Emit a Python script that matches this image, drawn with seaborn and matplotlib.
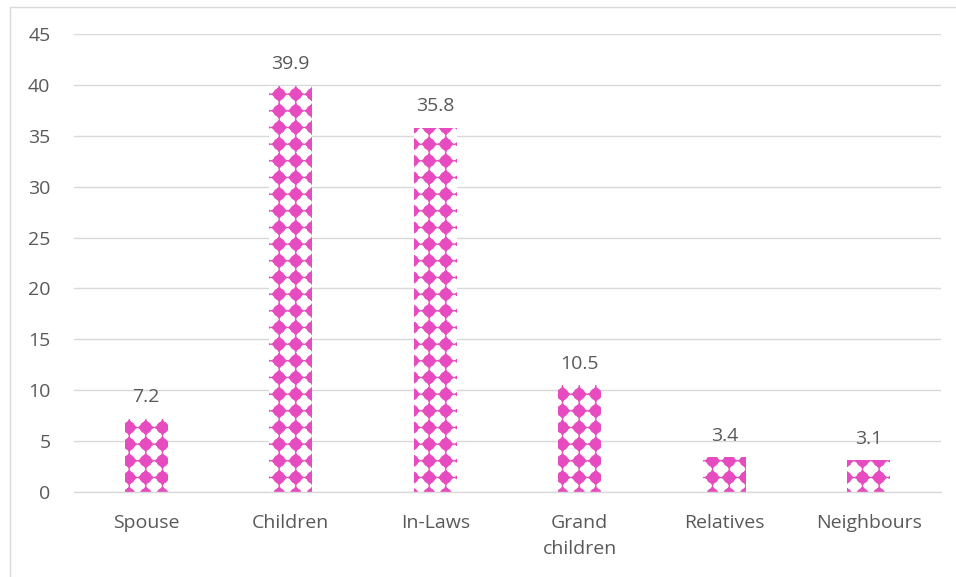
import numpy as np
import matplotlib
matplotlib.use("Agg")
import matplotlib.pyplot as plt
import matplotlib.hatch as mhatch
from matplotlib.path import Path
from matplotlib.patches import Rectangle
import seaborn as sns

categories = ["Spouse", "Children", "In-Laws", "Grand\nchildren", "Relatives", "Neighbours"]
values = [7.2, 39.9, 35.8, 10.5, 3.4, 3.1]
value_labels = ["7.2", "39.9", "35.8", "10.5", "3.4", "3.1"]
y_ticks = [0, 5, 10, 15, 20, 25, 30, 35, 40, 45]

PINK = "#e64bbf"
TEXT = "#595959"
GRID = "#d9d9d9"


# Custom square-grid hatch of filled "diamond dots" (replaces the '*' star hatch)
def _dot_shape():
    circ = Path.unit_circle()
    cv = circ.vertices * 0.34
    cc = circ.codes
    pts = []
    n = 4
    for i in range(2 * n):
        ang = np.pi / 2 * (i // 2) + (np.pi / 4 if i % 2 else 0.0)
        r = 0.49 if i % 2 == 0 else 0.24
        pts.append((r * np.cos(ang), r * np.sin(ang)))
    pts.append(pts[0])
    sv = np.array(pts)
    sc = np.full(len(sv), Path.LINETO, dtype=Path.code_type)
    sc[0] = Path.MOVETO
    sc[-1] = Path.CLOSEPOLY
    return np.vstack([cv, sv]), np.concatenate([cc, sc])


class DiamondDots(mhatch.HatchPatternBase):
    dx = -0.25
    dy = 0.35

    def __init__(self, hatch, density):
        self.num_rows = hatch.count('*') * density
        self.shape_vertices, self.shape_codes = _dot_shape()
        n = self.num_rows
        self.num_shapes = (n + 3) * (n + 3) if n else 0
        self.num_vertices = self.num_shapes * len(self.shape_vertices)

    def set_vertices_and_codes(self, vertices, codes):
        n = self.num_rows
        offset = 1.0 / n
        sv = self.shape_vertices * offset
        nv = len(sv)
        cur = 0
        grid = (np.arange(-1, n + 2)) * offset
        for r in grid:
            for c in grid:
                vertices[cur:cur + nv] = sv + (c + self.dx * offset, r + self.dy * offset)
                codes[cur:cur + nv] = self.shape_codes
                cur += nv


mhatch._hatch_types[:] = [t for t in mhatch._hatch_types if t is not mhatch.Stars] + [DiamondDots]

sns.set_theme(style="white")
plt.rcParams["font.family"] = ["Open Sans", "DejaVu Sans"]
plt.rcParams["hatch.linewidth"] = 0.5

fig = plt.figure(figsize=(9.56, 5.77), dpi=100)
ax = fig.add_axes([74 / 956, 85 / 577, 867 / 956, 458 / 577])

sns.barplot(x=categories, y=values, color="white", width=0.3, ax=ax,
            edgecolor=PINK, linewidth=0, hatch="*", saturation=1)

ax.set_ylim(0, 45)
ax.set_yticks(y_ticks)
ax.set_yticklabels([str(t) for t in y_ticks])
ax.set_xlim(-0.5, len(categories) - 0.5)
ax.yaxis.grid(True, color=GRID, linewidth=1)
ax.set_axisbelow(True)
for s in ["left", "right", "top"]:
    ax.spines[s].set_visible(False)
ax.spines["bottom"].set_color(GRID)
ax.spines["bottom"].set_linewidth(1)
ax.tick_params(axis="both", length=0, colors=TEXT, labelsize=14)
ax.tick_params(axis="y", pad=17)
ax.tick_params(axis="x", pad=16)
for lab in ax.get_xticklabels():
    lab.set_linespacing(1.55)
    lab.set_va("top")
ax.set_xlabel("")
ax.set_ylabel("")

ax.bar_label(ax.containers[0], labels=value_labels, padding=9,
             color=TEXT, fontsize=14)

fig.add_artist(Rectangle((10 / 956, -0.01), 1.0, 1 - 7 / 577 + 0.01,
                         transform=fig.transFigure, fill=False,
                         edgecolor=GRID, linewidth=1))

fig.savefig("out.png", dpi=100)
